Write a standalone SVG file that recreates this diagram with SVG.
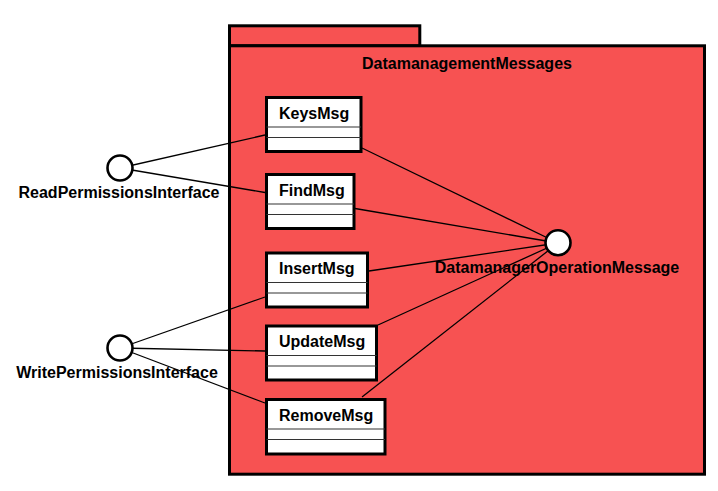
<svg xmlns="http://www.w3.org/2000/svg" width="718" height="491" viewBox="0 0 718 491">
<style>
.pkg{fill:#f75252;stroke:#000;stroke-width:3}
.cls{fill:#fff;stroke:#000;stroke-width:3}
.sep{stroke:#333;stroke-width:1.2}
.iface{fill:#fff;stroke:#000;stroke-width:2.6}
.conn line{stroke:#000;stroke-width:1.3}
text{font-family:"Liberation Sans",Arial,sans-serif;font-size:16px;font-weight:bold;fill:#000}
</style>
<rect width="718" height="491" fill="#fff"/>
<g id="DatamanagementMessages">
<rect class="pkg" x="229.5" y="25.8" width="190.3" height="20"/>
<rect class="pkg" x="229.5" y="45.8" width="475" height="428.4"/>
<text x="467" y="69" text-anchor="middle">DatamanagementMessages</text>
</g>
<g class="conn" id="connectors">
<line x1="120" y1="168" x2="265" y2="135"/>
<line x1="120" y1="168" x2="265" y2="192.5"/>
<line x1="120" y1="348" x2="265" y2="297"/>
<line x1="120" y1="348" x2="265" y2="351"/>
<line x1="120" y1="348" x2="265" y2="403"/>
<line x1="362" y1="148" x2="558" y2="243"/>
<line x1="355" y1="208.5" x2="558" y2="243"/>
<line x1="369" y1="271" x2="558" y2="243"/>
<line x1="378" y1="325" x2="558" y2="243"/>
<line x1="362" y1="397" x2="558" y2="243"/>
</g>
<g id="KeysMsg">
<rect class="cls" x="266.5" y="97.5" width="94.5" height="54"/>
<line class="sep" x1="266.5" y1="127" x2="361" y2="127"/>
<line class="sep" x1="266.5" y1="137.5" x2="361" y2="137.5"/>
<text x="279" y="118.5">KeysMsg</text>
</g>
<g id="FindMsg">
<rect class="cls" x="266.5" y="174.5" width="87.5" height="54"/>
<line class="sep" x1="266.5" y1="204" x2="354" y2="204"/>
<line class="sep" x1="266.5" y1="214.5" x2="354" y2="214.5"/>
<text x="279" y="195.5">FindMsg</text>
</g>
<g id="InsertMsg">
<rect class="cls" x="266.5" y="253" width="101" height="54"/>
<line class="sep" x1="266.5" y1="282.5" x2="367.5" y2="282.5"/>
<line class="sep" x1="266.5" y1="293" x2="367.5" y2="293"/>
<text x="279" y="274">InsertMsg</text>
</g>
<g id="UpdateMsg">
<rect class="cls" x="266.5" y="326" width="110" height="54"/>
<line class="sep" x1="266.5" y1="355.5" x2="376.5" y2="355.5"/>
<line class="sep" x1="266.5" y1="366" x2="376.5" y2="366"/>
<text x="279" y="347">UpdateMsg</text>
</g>
<g id="RemoveMsg">
<rect class="cls" x="266.5" y="399.5" width="118.5" height="54.5"/>
<line class="sep" x1="266.5" y1="429" x2="385" y2="429"/>
<line class="sep" x1="266.5" y1="439.5" x2="385" y2="439.5"/>
<text x="279" y="420.5">RemoveMsg</text>
</g>
<g id="ReadPermissionsInterface">
<circle class="iface" cx="120" cy="168" r="12.5"/>
<text x="119" y="198.3" text-anchor="middle">ReadPermissionsInterface</text>
</g>
<g id="WritePermissionsInterface">
<circle class="iface" cx="120" cy="348" r="12.5"/>
<text x="117" y="378.3" text-anchor="middle">WritePermissionsInterface</text>
</g>
<g id="DatamanagerOperationMessage">
<circle class="iface" cx="558" cy="242.7" r="12.5"/>
<text x="557" y="272.7" text-anchor="middle">DatamanagerOperationMessage</text>
</g>
</svg>
